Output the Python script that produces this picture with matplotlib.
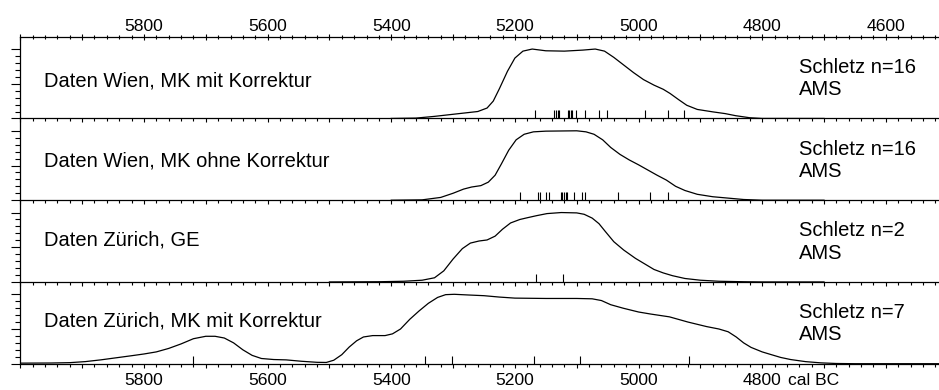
import matplotlib.pyplot as plt
from matplotlib.ticker import MultipleLocator, FixedLocator

plt.rcParams['font.family'] = ['Liberation Sans', 'DejaVu Sans']

# Summenkurven: Jahr cal BC und normierte Dichte
wien_mit_jahr = [5400, 5360, 5330, 5300, 5280, 5260, 5245, 5235, 5225, 5212, 5200, 5187,
                 5172, 5150, 5120, 5090, 5070, 5055, 5040, 5024, 5008, 4992, 4975, 4960,
                 4949, 4935, 4922, 4905, 4880, 4860, 4843, 4820, 4800, 4700]
wien_mit_dichte = [0, 0.005, 0.03, 0.06, 0.08, 0.10, 0.15, 0.25, 0.43, 0.68, 0.87, 0.97,
                   1.0, 0.975, 0.97, 0.985, 1.0, 0.97, 0.88, 0.77, 0.66, 0.56, 0.48, 0.42,
                   0.36, 0.27, 0.19, 0.13, 0.095, 0.07, 0.04, 0.01, 0, 0]

wien_ohne_jahr = [5400, 5350, 5320, 5300, 5283, 5270, 5255, 5243, 5232, 5222, 5210, 5198,
                  5185, 5170, 5150, 5100, 5085, 5072, 5058, 5045, 5030, 5015, 5000, 4986,
                  4970, 4955, 4940, 4925, 4905, 4880, 4855, 4830, 4800, 4700]
wien_ohne_dichte = [0, 0.005, 0.04, 0.10, 0.16, 0.19, 0.21, 0.26, 0.36, 0.52, 0.72, 0.87,
                    0.95, 0.985, 0.995, 1.0, 0.985, 0.95, 0.87, 0.76, 0.66, 0.58, 0.51, 0.44,
                    0.36, 0.29, 0.20, 0.14, 0.085, 0.05, 0.03, 0.01, 0, 0]

zh_ge_jahr = [5500, 5420, 5380, 5350, 5330, 5315, 5300, 5285, 5272, 5258, 5245, 5232,
              5220, 5207, 5192, 5180, 5165, 5148, 5125, 5100, 5088, 5075, 5064, 5054,
              5040, 5024, 5005, 4990, 4975, 4960, 4945, 4925, 4900, 4870, 4830, 4800, 4700]
zh_ge_dichte = [0, 0.003, 0.01, 0.025, 0.06, 0.16, 0.33, 0.48, 0.56, 0.59, 0.605, 0.66,
                0.76, 0.85, 0.9, 0.925, 0.955, 0.985, 1.0, 0.995, 0.975, 0.92, 0.84, 0.73,
                0.58, 0.46, 0.34, 0.26, 0.18, 0.13, 0.09, 0.05, 0.025, 0.01, 0.003, 0, 0]

zh_mk_jahr = [6000, 5950, 5920, 5895, 5870, 5845, 5820, 5800, 5780, 5760, 5740, 5720,
              5700, 5685, 5670, 5655, 5640, 5625, 5610, 5590, 5570, 5545, 5520, 5505,
              5493, 5480, 5468, 5456, 5445, 5430, 5410, 5398, 5385, 5370, 5355, 5340,
              5325, 5312, 5298, 5275, 5250, 5225, 5200, 5150, 5100, 5075, 5060, 5045,
              5025, 5000, 4980, 4950, 4920, 4890, 4870, 4855, 4842, 4830, 4818, 4800,
              4787, 4770, 4754, 4730, 4705, 4680, 4650, 4514]
zh_mk_dichte = [0.008, 0.01, 0.015, 0.03, 0.055, 0.085, 0.115, 0.14, 0.17, 0.22, 0.285, 0.36,
                0.395, 0.395, 0.37, 0.3, 0.2, 0.12, 0.075, 0.06, 0.055, 0.035, 0.02, 0.018,
                0.05, 0.13, 0.24, 0.33, 0.385, 0.405, 0.405, 0.43, 0.5, 0.64, 0.76, 0.87,
                0.955, 0.995, 1.0, 0.99, 0.98, 0.96, 0.945, 0.94, 0.94, 0.935, 0.91, 0.85,
                0.8, 0.745, 0.715, 0.675, 0.6, 0.535, 0.5, 0.46, 0.385, 0.3, 0.235, 0.17,
                0.135, 0.09, 0.06, 0.03, 0.012, 0.003, 0, 0]

# Einzeldaten (Striche unten)
wien_mit_daten = [5168, 5136, 5134, 5131, 5128, 5114, 5112, 5109, 5107, 5101,
                  5086, 5064, 5051, 4989, 4953, 4926]
wien_ohne_daten = [5191, 5162, 5160, 5149, 5145, 5126, 5123, 5120, 5118, 5116,
                   5104, 5091, 5086, 5033, 4981, 4953]
zh_ge_daten = [5166, 5122]
zh_mk_daten = [5720, 5345, 5302, 5169, 5095, 4919]

titel = ['Daten Wien, MK mit Korrektur', 'Daten Wien, MK ohne Korrektur',
         'Daten Zürich, GE', 'Daten Zürich, MK mit Korrektur']
fundort = ['Schletz n=16', 'Schletz n=16', 'Schletz n=2', 'Schletz n=7']
titel_y = [0.457, 0.484, 0.519, 0.533]

oben_labels = [5800, 5600, 5400, 5200, 5000, 4800, 4600]
unten_labels = [5800, 5600, 5400, 5200, 5000, 4800]

kurven = [(wien_mit_jahr, wien_mit_dichte, wien_mit_daten),
          (wien_ohne_jahr, wien_ohne_dichte, wien_ohne_daten),
          (zh_ge_jahr, zh_ge_dichte, zh_ge_daten),
          (zh_mk_jahr, zh_mk_dichte, zh_mk_daten)]

fig = plt.figure(figsize=(9.39, 3.90), dpi=100)

left = 20.3 / 939
top_px = 36.7
h_px = 81.75
major = list(range(4600, 6001, 100))

axes = []
for i, (jahr, dichte, daten) in enumerate(kurven):
    bottom = 1 - (top_px + (i + 1) * h_px) / 390
    ax = fig.add_axes([left, bottom, 1 - left, h_px / 390])
    ax.patch.set_visible(False)
    ax.plot(jahr, dichte, color='black', lw=0.9)
    ax.vlines(daten, 0, 0.115, color='black', lw=0.8)
    ax.set_xlim(6000, 4514)
    ax.set_ylim(0, h_px / 69.4)

    for s in ['top', 'right']:
        ax.spines[s].set_visible(False)
    ax.spines['left'].set_linewidth(0.9)
    ax.spines['bottom'].set_linewidth(0.9)

    # y-Achse: nur Striche
    ax.yaxis.set_major_locator(FixedLocator([0, 0.5, 1.0]))
    ax.yaxis.set_minor_locator(FixedLocator([0.1, 0.2, 0.3, 0.4, 0.6, 0.7, 0.8, 0.9]))
    ax.tick_params(axis='y', which='major', direction='out', length=6.7, width=0.8, labelleft=False)
    ax.tick_params(axis='y', which='minor', direction='out', length=3.8, width=0.8)

    # x-Achse unten: Striche nach unten
    ax.set_xticks(major)
    if i == 3:
        ax.set_xticklabels([str(v) if v in unten_labels else '' for v in major])
    else:
        ax.set_xticklabels(['' for v in major])
    ax.xaxis.set_minor_locator(MultipleLocator(20))
    ax.tick_params(axis='x', which='major', direction='out', length=3, width=0.8,
                   labelsize=12.6, pad=3.8)
    ax.tick_params(axis='x', which='minor', direction='out', length=2, width=0.8)

    tr = ax.get_yaxis_transform()
    ax.text(0.0258, titel_y[i], titel[i], transform=tr, fontsize=14.5, va='baseline')
    ax.text(0.848, 0.655, fundort[i], transform=tr, fontsize=14.5, va='baseline')
    ax.text(0.848, 0.335, 'AMS', transform=tr, fontsize=14.5, va='baseline')
    axes.append(ax)

# obere Achse mit Beschriftung
oben = axes[0].secondary_xaxis('top')
oben.set_xticks(major)
oben.set_xticklabels([str(v) if v in oben_labels else '' for v in major])
oben.xaxis.set_minor_locator(MultipleLocator(20))
oben.spines['top'].set_linewidth(0.9)
oben.tick_params(which='major', direction='inout', length=4.3, width=0.8, labelsize=12.6, pad=0)
oben.tick_params(which='minor', direction='inout', length=2.4, width=0.8)

axes[3].annotate('cal BC', xy=(4800, 0), xycoords=('data', 'axes fraction'),
                 xytext=(18.7, -6.9), textcoords='offset points',
                 fontsize=12.6, va='top', ha='left')

fig.savefig('out.png', dpi=100)
